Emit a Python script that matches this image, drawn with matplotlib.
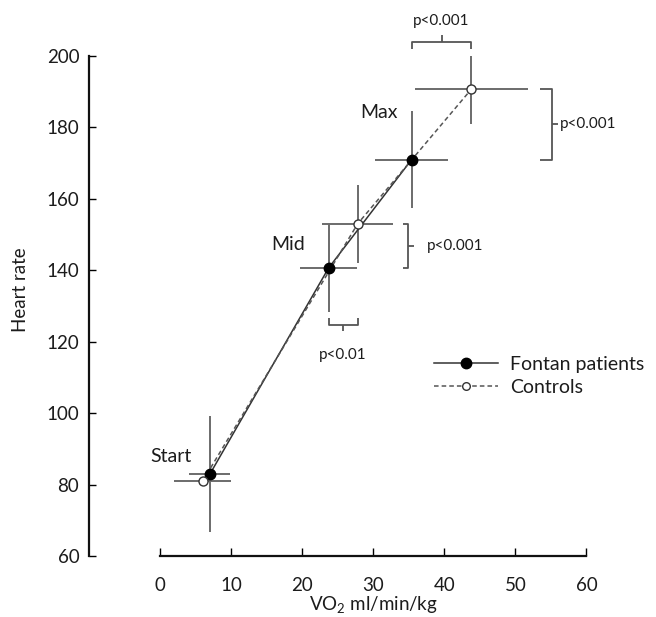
import matplotlib.pyplot as plt
from matplotlib.lines import Line2D

plt.rcParams['font.family'] = ['Lato', 'DejaVu Sans']
plt.rcParams['mathtext.default'] = 'regular'

# stages of the exercise test
stages = ['Start', 'Mid', 'Max']

# Fontan patients: VO2 (ml/min/kg) and heart rate, with errors
fontan_vo2 = [7.0, 23.7, 35.4]
fontan_hr = [82.9, 140.6, 171.0]
fontan_vo2_err = [2.9, 4.0, 5.1]
fontan_hr_err = [16.2, 12.3, 13.5]

# Controls
ctrl_vo2 = [6.0, 27.8, 43.8]
ctrl_hr = [81.0, 153.0, 190.7]
ctrl_vo2_err = [4.0, 5.0, 8.0]
ctrl_hr_err = [0.0, 11.0, 9.7]

p_labels = ['p<0.001', 'p<0.001', 'p<0.001', 'p<0.01']

txt = '#1c1c1c'
bar_col = '#6b6b6b'

fig = plt.figure(figsize=(6.56, 6.17), dpi=100)
ax = fig.add_axes([0.1357, 0.0989, 0.8125, 0.8104])

# error bars first so the markers sit on top
ax.errorbar(fontan_vo2, fontan_hr, xerr=fontan_vo2_err, yerr=fontan_hr_err,
            fmt='none', ecolor=bar_col, elinewidth=1.4, capsize=0, zorder=2)
ax.errorbar(ctrl_vo2, ctrl_hr, xerr=ctrl_vo2_err, yerr=ctrl_hr_err,
            fmt='none', ecolor=bar_col, elinewidth=1.4, capsize=0, zorder=2)

ax.plot(fontan_vo2, fontan_hr, '-', color='#333333', lw=1.1, zorder=3)
ax.plot(ctrl_vo2, ctrl_hr, '--', color='#555555', lw=1.1, dashes=(3, 2), zorder=3)
ax.plot(fontan_vo2, fontan_hr, 'o', ms=7.5, mfc='black', mec='black', zorder=4)
ax.plot(ctrl_vo2, ctrl_hr, 'o', ms=6.5, mfc='white', mec='#333333', mew=1.0, zorder=4)

# stage labels
ax.text(fontan_vo2[0] - 2.5, fontan_hr[0] + 5.0, stages[0], ha='right', va='center',
        fontsize=14, color=txt)
ax.text(fontan_vo2[1] - 3.3, fontan_hr[1] + 6.5, stages[1], ha='right', va='center',
        fontsize=14, color=txt)
ax.text(fontan_vo2[2] - 1.9, fontan_hr[2] + 13.1, stages[2], ha='right', va='center',
        fontsize=14, color=txt)

bk = dict(color='#555555', lw=1.3, clip_on=False, solid_capstyle='butt')


def vbracket(x, y0, y1, w, gap, label):
    # vertical "}" bracket between two heart rates
    ax.plot([x, x + w, x + w, x], [y0, y0, y1, y1], **bk)
    ym = (y0 + y1) / 2
    ax.plot([x + w, x + w + 0.8], [ym, ym], **bk)
    ax.text(x + w + gap, ym, label, ha='left', va='center', fontsize=11, color=txt)


def hbracket(x0, x1, y, d, label, ty):
    # horizontal bracket between two VO2 values, d gives direction of the nub
    ax.plot([x0, x0, x1, x1], [y - d, y, y, y - d], **bk)
    xm = (x0 + x1) / 2
    ax.plot([xm, xm], [y, y + d * 0.9], **bk)
    ax.text(xm, ty, label, ha='center', va='center', fontsize=11, color=txt)


hbracket(fontan_vo2[2], ctrl_vo2[2], 204.0, 2.0, p_labels[0], 209.8)
vbracket(53.4, fontan_hr[2], ctrl_hr[2], 1.75, 1.1, p_labels[1])
vbracket(34.2, fontan_hr[1], ctrl_hr[1], 0.7, 2.6, p_labels[2])
hbracket(fontan_vo2[1], ctrl_vo2[1], 124.7, -1.8, p_labels[3], 116.3)

# axes styling
ax.set_xlim(-10, 65)
ax.set_ylim(60, 200)
ax.set_xticks(range(0, 61, 10))
ax.set_yticks(range(60, 201, 20))
for s in ['top', 'right']:
    ax.spines[s].set_visible(False)
ax.spines['bottom'].set_bounds(0, 60)
for s in ['left', 'bottom']:
    ax.spines[s].set_linewidth(1.6)
    ax.spines[s].set_color('#111111')
ax.tick_params(axis='x', direction='in', length=5.5, width=1.0, pad=15,
               labelsize=13.5, labelcolor=txt)
ax.tick_params(axis='y', direction='in', length=5, width=1.0, pad=7,
               labelsize=13.5, labelcolor=txt)

ax.annotate('VO$_2$ ml/min/kg', xy=(30, -0.098), xycoords=('data', 'axes fraction'),
            ha='center', va='center', fontsize=13.5, color=txt)
ax.set_ylabel('Heart rate', fontsize=13.5, color=txt)
ax.yaxis.set_label_coords(-0.112, 0.532)

handles = [
    Line2D([], [], color='#333333', lw=1.1, marker='o', ms=7.5, mfc='black', mec='black'),
    Line2D([], [], color='#555555', lw=1.1, ls='--', dashes=(3, 2), marker='o', ms=5.5,
           mfc='white', mec='#333333'),
]
ax.legend(handles, ['Fontan patients', 'Controls'], loc='upper left',
          bbox_to_anchor=(0.615, 0.435), frameon=False, fontsize=14,
          handlelength=3.3, handletextpad=0.6, labelspacing=0.3, labelcolor=txt)

fig.savefig('out.png', dpi=100)
